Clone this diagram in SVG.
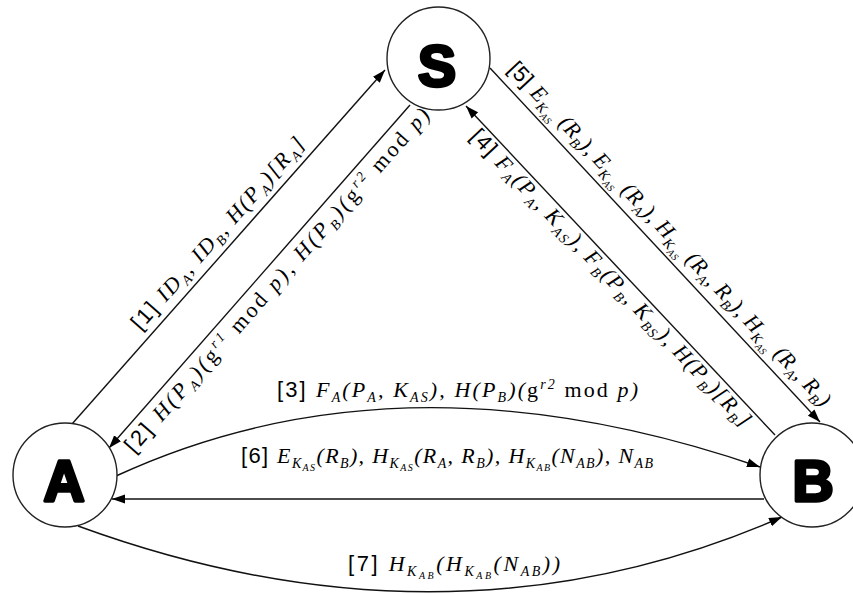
<svg xmlns="http://www.w3.org/2000/svg" width="853" height="594" viewBox="0 0 853 594">
<style>
.node{fill:#fff;stroke:#222;stroke-width:1.4}
.big{font-family:"Liberation Sans",Arial,sans-serif;font-weight:bold;font-size:57px;fill:#000;stroke:#000;stroke-width:3.4;stroke-linejoin:round;text-anchor:middle}
.edge{fill:none;stroke:#111;stroke-width:1.4;marker-end:url(#ah)}
.m{font-family:"Liberation Serif","Times New Roman",serif;font-style:italic;font-size:22px;fill:#000}
.lab{font-family:"Liberation Sans",Arial,sans-serif;font-style:normal;font-size:22px}
.up{font-style:normal}
.sb{font-size:14px}
.ss{font-size:10px}
</style>
<defs>
<marker id="ah" markerUnits="userSpaceOnUse" markerWidth="14" markerHeight="10" refX="13" refY="5" orient="auto">
<path d="M0,0.5 L13,5 L0,9.5 z" fill="#000"/>
</marker>
</defs>
<rect width="853" height="594" fill="#fff"/>
<g id="connectors">
<g id="e1">
<path class="edge" d="M72,424 L385,70"/>
<text class="m" transform="translate(140.6,331.3) rotate(-48.5)" textLength="249" lengthAdjust="spacing"><tspan class="lab">[1] </tspan>ID<tspan class="sb" dy="5">A</tspan><tspan dy="-5">, ID</tspan><tspan class="sb" dy="5">B</tspan><tspan dy="-5">, H(P</tspan><tspan class="sb" dy="5">A</tspan><tspan dy="-5">)[R</tspan><tspan class="sb" dy="5">A</tspan><tspan dy="-5">]</tspan></text>
</g>
<g id="e2">
<path class="edge" d="M410,105 L109,448"/>
<text class="m" transform="translate(134,454) rotate(-48.7)" textLength="450" lengthAdjust="spacing"><tspan class="lab">[2] </tspan>H(P<tspan class="sb" dy="5">A</tspan><tspan dy="-5">)(</tspan><tspan class="up">g</tspan><tspan class="sb" dy="-8">r1</tspan><tspan class="up" dy="8"> mod </tspan>p), H(P<tspan class="sb" dy="5">B</tspan><tspan dy="-5">)(</tspan><tspan class="up">g</tspan><tspan class="sb" dy="-8">r2</tspan><tspan class="up" dy="8"> mod </tspan>p)</text>
</g>
<g id="e3">
<path class="edge" d="M116,476 Q402,344 760,467"/>
<text class="m" x="277" y="397" textLength="361" lengthAdjust="spacing"><tspan class="lab">[3]  </tspan>F<tspan class="sb" dy="5">A</tspan><tspan dy="-5">(P</tspan><tspan class="sb" dy="5">A</tspan><tspan dy="-5">, K</tspan><tspan class="sb" dy="5">AS</tspan><tspan dy="-5">), H(P</tspan><tspan class="sb" dy="5">B</tspan><tspan dy="-5">)(</tspan><tspan class="up">g</tspan><tspan class="sb" dy="-8">r2</tspan><tspan class="up" dy="8"> mod </tspan>p)</text>
</g>
<g id="e4">
<path class="edge" d="M775,435 L466,106"/>
<text class="m" transform="translate(469.2,137.2) rotate(46.8)" textLength="399" lengthAdjust="spacing"><tspan class="lab">[4] </tspan>F<tspan class="sb" dy="5">A</tspan><tspan dy="-5">(P</tspan><tspan class="sb" dy="5">A</tspan><tspan dy="-5">, K</tspan><tspan class="sb" dy="5">AS</tspan><tspan dy="-5">), F</tspan><tspan class="sb" dy="5">B</tspan><tspan dy="-5">(P</tspan><tspan class="sb" dy="5">B</tspan><tspan dy="-5">, K</tspan><tspan class="sb" dy="5">BS</tspan><tspan dy="-5">), H(P</tspan><tspan class="sb" dy="5">B</tspan><tspan dy="-5">)[R</tspan><tspan class="sb" dy="5">B</tspan><tspan dy="-5">]</tspan></text>
</g>
<g id="e5">
<path class="edge" d="M490,68 L820,422"/>
<text class="m" transform="translate(507,70) rotate(47)" textLength="462" lengthAdjust="spacing"><tspan class="lab">[5] </tspan>E<tspan class="sb" dy="5">K</tspan><tspan class="ss" dy="3">AS</tspan><tspan dy="-8"> (R</tspan><tspan class="sb" dy="5">B</tspan><tspan dy="-5">), E</tspan><tspan class="sb" dy="5">K</tspan><tspan class="ss" dy="3">AS</tspan><tspan dy="-8"> (R</tspan><tspan class="sb" dy="5">A</tspan><tspan dy="-5">), H</tspan><tspan class="sb" dy="5">K</tspan><tspan class="ss" dy="3">AS</tspan><tspan dy="-8"> (R</tspan><tspan class="sb" dy="5">A</tspan><tspan dy="-5">, R</tspan><tspan class="sb" dy="5">B</tspan><tspan dy="-5">), H</tspan><tspan class="sb" dy="5">K</tspan><tspan class="ss" dy="3">AS</tspan><tspan dy="-8"> (R</tspan><tspan class="sb" dy="5">A</tspan><tspan dy="-5">, R</tspan><tspan class="sb" dy="5">B</tspan><tspan dy="-5">)</tspan></text>
</g>
<g id="e6">
<path class="edge" d="M764,499 L112,499"/>
<text class="m" x="241" y="463" textLength="412" lengthAdjust="spacing"><tspan class="lab">[6] </tspan>E<tspan class="sb" dy="5">K</tspan><tspan class="ss" dy="3">AS</tspan><tspan dy="-8">(R</tspan><tspan class="sb" dy="5">B</tspan><tspan dy="-5">), H</tspan><tspan class="sb" dy="5">K</tspan><tspan class="ss" dy="3">AS</tspan><tspan dy="-8">(R</tspan><tspan class="sb" dy="5">A</tspan><tspan dy="-5">, R</tspan><tspan class="sb" dy="5">B</tspan><tspan dy="-5">), H</tspan><tspan class="sb" dy="5">K</tspan><tspan class="ss" dy="3">AB</tspan><tspan dy="-8">(N</tspan><tspan class="sb" dy="5">AB</tspan><tspan dy="-5">), N</tspan><tspan class="sb" dy="5">AB</tspan></text>
</g>
<g id="e7">
<path class="edge" d="M78,526 Q450,662 782,517"/>
<text class="m" x="348" y="571" textLength="212" lengthAdjust="spacing"><tspan class="lab">[7] </tspan>H<tspan class="sb" dy="5">K</tspan><tspan class="ss" dy="3">AB</tspan><tspan dy="-8">(H</tspan><tspan class="sb" dy="5">K</tspan><tspan class="ss" dy="3">AB</tspan><tspan dy="-8">(N</tspan><tspan class="sb" dy="5">AB</tspan><tspan dy="-5">))</tspan></text>
</g>
</g>
<g id="node-S">
<circle class="node" cx="438.5" cy="58.5" r="51.5"/>
<text class="big" x="437" y="86">S</text>
</g>
<g id="node-A">
<circle class="node" cx="65" cy="475" r="52"/>
<text class="big" x="64" y="501">A</text>
</g>
<g id="node-B">
<circle class="node" cx="812" cy="475" r="52"/>
<text class="big" x="813" y="501">B</text>
</g>
</svg>
